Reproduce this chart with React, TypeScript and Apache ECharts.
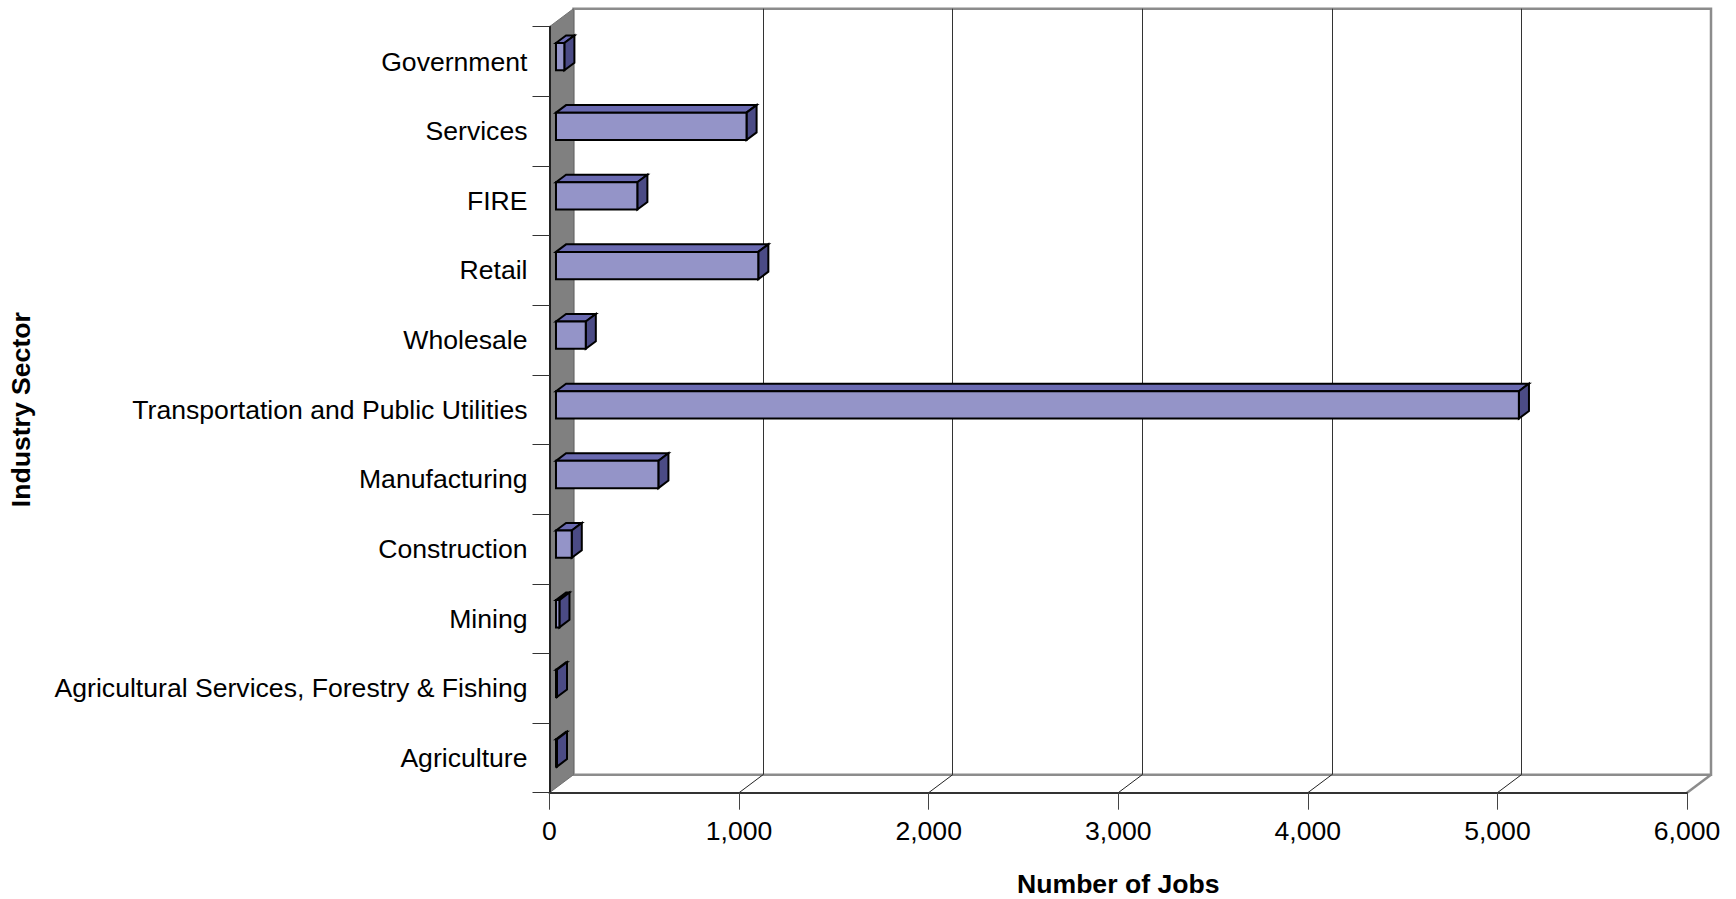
import React, { useEffect, useRef } from "react";
import * as echarts from "echarts";

const categories = [
  "Agriculture",
  "Agricultural Services, Forestry & Fishing",
  "Mining",
  "Construction",
  "Manufacturing",
  "Transportation and Public Utilities",
  "Wholesale",
  "Retail",
  "FIRE",
  "Services",
  "Government",
];
const jobs = [5, 5, 18, 83, 540, 5079, 157, 1067, 429, 1005, 44];

const X_MIN = 0;
const X_MAX = 6000;
const X_INTERVAL = 1000;

const xTitle = "Number of Jobs";
const yTitle = "Industry Sector";

const FONT = "'Liberation Sans', Arial, sans-serif";
const FS = 26.6;
const DX = 24;
const DY = -18;
const FRONT = { left: 549.5, top: 26.7, width: 1137.5, height: 766 };

export default function App() {
  const ref = useRef<HTMLDivElement>(null);
  useEffect(() => {
    if (!ref.current) return;
    const chart = echarts.init(ref.current, null, { renderer: "svg" });

    const frameRender = (params: any, api: any) => {
      const cs = params.coordSys;
      const x = cs.x, y = cs.y, w = cs.width, h = cs.height;
      const children: any[] = [];
      children.push({
        type: "polygon",
        shape: { points: [[x, y], [x + DX, y + DY], [x + DX, y + h + DY], [x, y + h]] },
        style: { fill: "#808080", stroke: "#707070", lineWidth: 1 },
      });
      for (let v = X_MIN + X_INTERVAL; v <= X_MAX; v += X_INTERVAL) {
        const px = api.coord([v, 0])[0];
        const last = v === X_MAX;
        children.push({
          type: "line",
          shape: { x1: px, y1: y + h, x2: px + DX, y2: y + h + DY },
          style: { stroke: last ? "#8c8c8c" : "#222", lineWidth: last ? 2.5 : 1 },
        });
      }
      return { type: "group", children };
    };

    const barRender = (params: any, api: any) => {
      const cat = api.value(0);
      const val = api.value(1);
      const p0 = api.coord([0, cat]);
      const p1 = api.coord([val, cat]);
      const band = api.size([0, 1])[1];
      const fx = DX * 0.27, fy = DY * 0.27;
      const dx = DX * 0.42, dy = DY * 0.42;
      const hh = band * 0.392;
      const x0 = p0[0] + fx;
      const x1 = p1[0] + fx;
      const yt = p0[1] + fy - hh / 2;
      const yb = yt + hh;
      const stroke = { stroke: "#000", lineWidth: 2, lineJoin: "miter" };
      return {
        type: "group",
        children: [
          {
            type: "polygon",
            shape: { points: [[x0, yt], [x0 + dx, yt + dy], [x1 + dx, yt + dy], [x1, yt]] },
            style: { fill: "#6a6ab0", ...stroke },
          },
          {
            type: "polygon",
            shape: { points: [[x1, yt], [x1 + dx, yt + dy], [x1 + dx, yb + dy], [x1, yb]] },
            style: { fill: "#4b4b85", ...stroke },
          },
          {
            type: "polygon",
            shape: { points: [[x0, yt], [x1, yt], [x1, yb], [x0, yb]] },
            style: { fill: "#9494c8", ...stroke },
          },
        ],
      };
    };

    chart.setOption({
      animation: false,
      backgroundColor: "#fff",
      textStyle: { fontFamily: FONT },
      grid: [
        { ...FRONT, containLabel: false, outerBoundsMode: "none" },
        {
          left: FRONT.left + DX,
          top: FRONT.top + DY,
          width: FRONT.width,
          height: FRONT.height,
          outerBoundsMode: "none",
          show: true,
          backgroundColor: "#fff",
          borderColor: "#8c8c8c",
          borderWidth: 2.5,
        },
      ],
      xAxis: [
        {
          type: "value",
          gridIndex: 0,
          min: X_MIN,
          max: X_MAX,
          interval: X_INTERVAL,
          z: 5,
          splitLine: { show: false },
          axisLine: { show: true, lineStyle: { color: "#333", width: 2 } },
          axisTick: { show: true, length: 17, lineStyle: { color: "#444", width: 1 } },
          axisLabel: { fontSize: FS, color: "#000", margin: 25, fontFamily: FONT },
          name: xTitle,
          nameLocation: "middle",
          nameGap: 78,
          nameTextStyle: { fontSize: FS, fontWeight: "bold", color: "#000", fontFamily: FONT },
        },
        {
          type: "value",
          gridIndex: 1,
          min: X_MIN,
          max: X_MAX,
          interval: X_INTERVAL,
          axisLine: { show: false },
          axisTick: { show: false },
          axisLabel: { show: false },
          splitLine: { show: true, showMinLine: false, showMaxLine: false, lineStyle: { color: "#333", width: 1 } },
        },
      ],
      yAxis: [
        {
          type: "category",
          gridIndex: 0,
          data: categories,
          z: 5,
          axisLine: { show: true, lineStyle: { color: "#222", width: 2 } },
          axisTick: { show: true, length: 17, lineStyle: { color: "#333", width: 1 } },
          axisLabel: { fontSize: FS, color: "#000", margin: 22, fontFamily: FONT },
          name: yTitle,
          nameLocation: "middle",
          nameRotate: 90,
          nameGap: 515,
          nameTextStyle: { fontSize: FS, fontWeight: "bold", color: "#000", fontFamily: FONT },
        },
        {
          type: "category",
          gridIndex: 1,
          data: categories,
          show: false,
        },
      ],
      series: [
        {
          type: "custom",
          name: "frame",
          xAxisIndex: 0,
          yAxisIndex: 0,
          z: 1,
          silent: true,
          renderItem: frameRender,
          data: [[0, 0]],
        },
        {
          type: "custom",
          name: "Jobs",
          xAxisIndex: 0,
          yAxisIndex: 0,
          z: 3,
          renderItem: barRender,
          encode: { x: 1, y: 0 },
          data: jobs.map((v, i) => [i, v]),
        },
      ],
    });
    return () => chart.dispose();
  }, []);
  return (
    <div
      ref={ref}
      style={{ position: "fixed", left: 0, top: 0, width: 1736, height: 899 }}
    />
  );
}
